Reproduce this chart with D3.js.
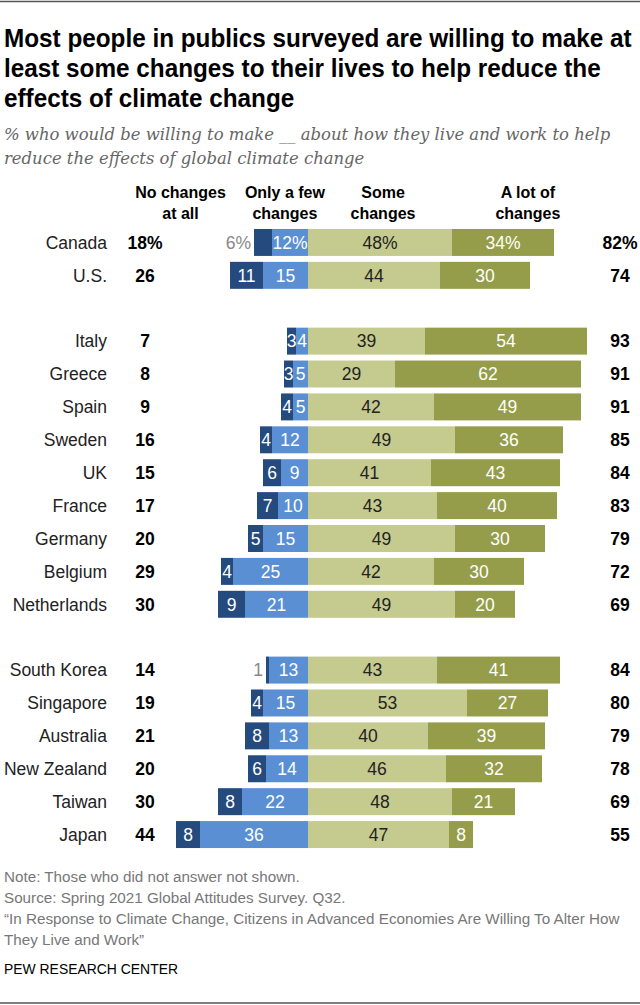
<!DOCTYPE html>
<html>
<head>
<meta charset="utf-8">
<script src="https://cdn.jsdelivr.net/npm/d3@7"></script>
<style>
  body { margin: 0; background: #fff; }
  svg { display: block; }
</style>
</head>
<body>
<svg id="chart"></svg>
<script>
// values
const countries = ['Canada', 'U.S.', 'Italy', 'Greece', 'Spain', 'Sweden', 'UK', 'France',
  'Germany', 'Belgium', 'Netherlands', 'South Korea', 'Singapore', 'Australia',
  'New Zealand', 'Taiwan', 'Japan'];
const groupBreaks = ['U.S.', 'Netherlands'];
const noneAtAll = [6, 11, 3, 3, 4, 4, 6, 7, 5, 4, 9, 1, 4, 8, 6, 8, 8];
const onlyFew = [12, 15, 4, 5, 5, 12, 9, 10, 15, 25, 21, 13, 15, 13, 14, 22, 36];
const someChanges = [48, 44, 39, 29, 42, 49, 41, 43, 49, 42, 49, 43, 53, 40, 46, 48, 47];
const aLot = [34, 30, 54, 62, 49, 36, 43, 40, 30, 30, 20, 41, 27, 39, 32, 21, 8];
const netLeft = [18, 26, 7, 8, 9, 16, 15, 17, 20, 29, 30, 14, 19, 21, 20, 30, 44];
const netRight = [82, 74, 93, 91, 91, 85, 84, 83, 79, 72, 69, 84, 80, 79, 78, 69, 55];

const headers = [
  {lines: ['No changes', 'at all'], at: -42.5},
  {lines: ['Only a few', 'changes'], at: -7.7},
  {lines: ['Some', 'changes'], at: 25},
  {lines: ['A lot of', 'changes'], at: 73.3}
];

const titleLines = ['Most people in publics surveyed are willing to make at',
  'least some changes to their lives to help reduce the',
  'effects of climate change'];
const subtitleLines = ['% who would be willing to make __ about how they live and work to help',
  'reduce the effects of global climate change'];
const noteLines = ['Note: Those who did not answer not shown.',
  'Source: Spring 2021 Global Attitudes Survey. Q32.',
  '\u201cIn Response to Climate Change, Citizens in Advanced Economies Are Willing To Alter How',
  'They Live and Work\u201d'];

const W = 640, H = 1005;
const SANS = "'Liberation Sans', Arial, sans-serif";
const SERIF = "'DejaVu Serif', Georgia, serif";
const colors = {none: '#244a7e', few: '#5a8fd4', some: '#c5ca8e', lot: '#959d4a'};
const labelFill = {none: '#fff', few: '#fff', some: '#222', lot: '#fff'};

const svg = d3.select('#chart').attr('width', W).attr('height', H);

// rules at top and bottom
svg.append('line').attr('x1', 0).attr('x2', W).attr('y1', 1.5).attr('y2', 1.5)
  .attr('stroke', '#555').attr('stroke-width', 1.5);
svg.append('line').attr('x1', 0).attr('x2', W).attr('y1', H - 2).attr('y2', H - 2)
  .attr('stroke', '#555').attr('stroke-width', 1.5);

// title: the original uses a condensed face, so squeeze the block horizontally
const title = svg.append('g');
title.selectAll('text')
  .data(titleLines)
  .join('text')
    .attr('x', 0)
    .attr('y', (d, i) => 47 + i * 30)
    .attr('font-family', SANS)
    .attr('font-weight', 'bold')
    .attr('font-size', 25)
    .attr('fill', '#000')
    .text(d => d);
const titleW = title.select('text').node().getComputedTextLength();
title.attr('transform', `translate(4,0) scale(${628 / titleW},1)`);

// fit a block of lines so that one of them spans the given width
function fitLines(sel, index, width) {
  const base = +sel.attr('font-size');
  const w = sel.nodes()[index].getComputedTextLength();
  sel.attr('font-size', base * width / w);
}

const subtitle = svg.append('g').selectAll('text')
  .data(subtitleLines)
  .join('text')
    .attr('x', 4)
    .attr('y', (d, i) => 140 + i * 24)
    .attr('font-family', SERIF)
    .attr('font-style', 'italic')
    .attr('font-size', 16)
    .attr('fill', '#666')
    .text(d => d);
fitLines(subtitle, 0, 607);

// scales
const slots = [];
countries.forEach(c => {
  slots.push(c);
  if (groupBreaks.includes(c)) slots.push('gap-' + c);
});
const x = d3.scaleLinear().domain([0, 100]).range([308, 608]);
const y = d3.scaleBand().domain(slots).range([226, 851])
  .paddingInner(0.18).paddingOuter(0.09);

const rows = countries.map((c, i) => ({
  country: c, none: -noneAtAll[i], few: -onlyFew[i], some: someChanges[i], lot: aLot[i],
  left: netLeft[i], right: netRight[i], first: i === 0
}));

// column headers
const head = svg.append('g')
  .attr('font-family', SANS)
  .attr('font-weight', 'bold')
  .attr('font-size', 16)
  .attr('text-anchor', 'middle')
  .attr('fill', '#000');
headers.forEach(h => {
  h.lines.forEach((line, j) => {
    head.append('text')
      .attr('x', x(h.at))
      .attr('y', 198 + j * 21)
      .text(line);
  });
});

// bars
const keys = ['few', 'none', 'some', 'lot'];
const series = d3.stack().keys(keys).offset(d3.stackOffsetDiverging)(rows);

const bars = svg.append('g');
series.forEach(s => {
  const key = s.key;
  const g = bars.append('g');
  g.selectAll('rect')
    .data(s)
    .join('rect')
      .attr('x', d => x(Math.min(d[0], d[1])))
      .attr('y', d => y(d.data.country))
      .attr('width', d => Math.abs(x(d[1]) - x(d[0])))
      .attr('height', y.bandwidth())
      .attr('fill', colors[key]);

  g.selectAll('text')
    .data(s)
    .join('text')
      .attr('x', d => (x(d[0]) + x(d[1])) / 2)
      .attr('y', d => y(d.data.country) + y.bandwidth() / 2)
      .attr('dy', '0.36em')
      .attr('text-anchor', 'middle')
      .attr('font-family', SANS)
      .attr('font-size', 17.5)
      .attr('fill', labelFill[key])
      .text(d => Math.abs(d.data[key]) + (d.data.first ? '%' : ''))
      .each(function (d) {
        const segW = Math.abs(x(d[1]) - x(d[0]));
        if (this.getComputedTextLength() > segW + 3) {
          d3.select(this)
            .attr('x', x(Math.min(d[0], d[1])) - 3)
            .attr('text-anchor', 'end')
            .attr('fill', '#888');
        }
      });
});

// country names
svg.append('g').selectAll('text')
  .data(rows)
  .join('text')
    .attr('x', 107)
    .attr('y', d => y(d.country) + y.bandwidth() / 2)
    .attr('dy', '0.36em')
    .attr('text-anchor', 'end')
    .attr('font-family', SANS)
    .attr('font-size', 17.5)
    .attr('fill', '#222')
    .text(d => d.country);

// net columns
const nets = svg.append('g')
  .attr('font-family', SANS)
  .attr('font-weight', 'bold')
  .attr('font-size', 17.5)
  .attr('text-anchor', 'middle')
  .attr('fill', '#000');
nets.selectAll('text.left')
  .data(rows)
  .join('text')
    .attr('class', 'left')
    .attr('x', 145)
    .attr('y', d => y(d.country) + y.bandwidth() / 2)
    .attr('dy', '0.36em')
    .text(d => d.left + (d.first ? '%' : ''));
nets.selectAll('text.right')
  .data(rows)
  .join('text')
    .attr('class', 'right')
    .attr('x', 620)
    .attr('y', d => y(d.country) + y.bandwidth() / 2)
    .attr('dy', '0.36em')
    .text(d => d.right + (d.first ? '%' : ''));

// notes
const notes = svg.append('g').selectAll('text')
  .data(noteLines)
  .join('text')
    .attr('x', 4)
    .attr('y', (d, i) => 882 + i * 21)
    .attr('font-family', SANS)
    .attr('font-size', 14)
    .attr('fill', '#777')
    .text(d => d);
fitLines(notes, 2, 616);

svg.append('text')
  .attr('x', 4)
  .attr('y', 974)
  .attr('font-family', SANS)
  .attr('font-size', 15.5)
  .attr('fill', '#000')
  .attr('textLength', 174)
  .attr('lengthAdjust', 'spacingAndGlyphs')
  .text('PEW RESEARCH CENTER');
</script>
</body>
</html>
